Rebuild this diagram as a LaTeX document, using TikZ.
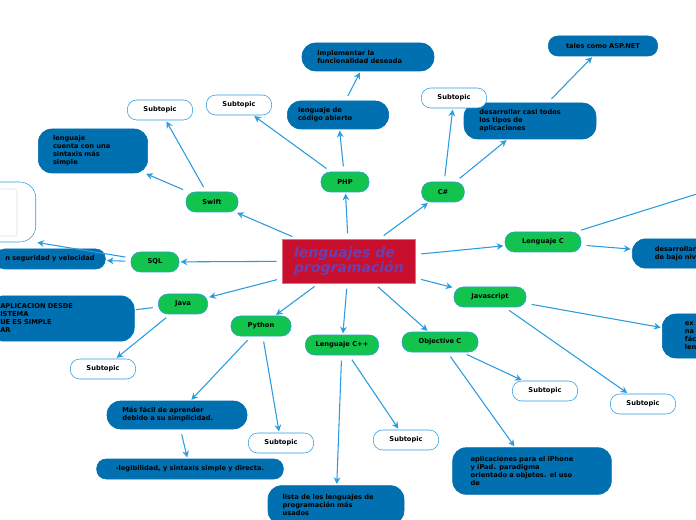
\documentclass[tikz,border=0pt]{standalone}
\usepackage{fontspec}
\setmainfont{DejaVu Sans}
\usetikzlibrary{arrows.meta}
\definecolor{edge}{HTML}{2B9BE0}
\definecolor{dblue}{HTML}{0070B0}
\definecolor{grn}{HTML}{12C44E}
\definecolor{crim}{HTML}{C8102E}
\definecolor{purp}{HTML}{6A3FB0}
\begin{document}
\begin{tikzpicture}[x=0.75pt,y=-0.75pt,
  font=\bfseries\fontsize{5}{6}\selectfont,
  topic/.style={draw=edge,fill=grn,rounded corners=7pt,minimum height=15pt,inner sep=1pt},
  info/.style={draw=dblue,fill=dblue,rounded corners=10pt,align=left,inner sep=2pt},
  sub/.style={draw=edge,fill=white,rounded corners=7pt,minimum width=49pt,minimum height=15pt},
  con/.style={draw=edge,line width=0.8pt,-{Stealth[length=5pt,width=5pt]},shorten <=4pt,shorten >=1pt}]
\useasboundingbox (0,0) rectangle (696,520);
\clip (0,0) rectangle (696,520);
\node[fill=crim,draw=crim!60,minimum width=100pt,minimum height=33pt,text=purp,align=left,font=\bfseries\itshape\fontsize{10.5}{11.5}\selectfont] (m) at (349,261) {lenguajes de\\programación};
% topics
\node[topic,minimum width=36pt] (php) at (345,182) {PHP};
\node[topic,minimum width=32pt] (cs) at (443,192) {C\#};
\node[topic,minimum width=39pt] (sw) at (212,202) {Swift};
\node[topic,minimum width=36pt] (sql) at (155,262) {SQL};
\node[topic,minimum width=37pt] (java) at (183,304) {Java};
\node[topic,minimum width=45pt] (py) at (261,326) {Python};
\node[topic,minimum width=55pt] (cpp) at (342,345) {Lenguaje C++};
\node[topic,minimum width=57pt] (objc) at (440,342) {Objective C};
\node[topic,minimum width=54pt] (js) at (490,297) {Javascript};
\node[topic,minimum width=57pt] (lc) at (543,242) {Lenguaje C};
% info
\node[info,minimum width=99pt,minimum height=21pt,text width=76pt] (impl) at (368,57) {implementar la\\funcionalidad deseada};
\node[info,minimum width=76pt,minimum height=21pt,text width=60pt] (abi) at (338,115) {lenguaje de\\código abierto};
\node[info,minimum width=99pt,minimum height=27pt,text width=76pt] (desc) at (530,121) {desarrollar casi todos\\los tipos de\\aplicaciones};
\node[info,minimum width=82pt,minimum height=15pt,rounded corners=7pt] (asp) at (603,46) {tales como ASP.NET};
\node[info,minimum width=82pt,minimum height=33pt,text width=60pt] (sint) at (93,151) {lenguaje\\cuenta con una\\sintaxis más\\simple};
\node[info,minimum height=15pt,rounded corners=7pt,anchor=west,align=left,inner xsep=7.5pt,text width=67.5pt] (seg) at (-5,259) {n seguridad y velocidad};
\node[info,minimum height=34pt,anchor=west,inner xsep=7.5pt,text width=93pt] (jbox) at (-10,318.5) {APLICACION DESDE\\ISTEMA\\UE ES SIMPLE\\AR};
\node[info,minimum width=80pt,minimum height=22pt,anchor=west,text width=70pt] (baj) at (632,253.5) {\hspace*{12pt}desarrollar\\\hspace*{12pt}de bajo nivel};
\node[info,minimum width=70pt,minimum height=33pt,anchor=west,text width=60pt] (ex) at (662,336) {\hspace*{12pt}ex\\\hspace*{12pt}na\\\hspace*{12pt}fác\\\hspace*{12pt}len};
\node[info,minimum width=105pt,minimum height=21pt,text width=82pt] (fac) at (177,415) {Más fácil de aprender\\debido a su simplicidad.};
\node[info,minimum width=140pt,minimum height=15pt,rounded corners=7pt] (leg) at (190,469) {-legibilidad, y sintaxis simple y directa.};
\node[info,minimum width=102pt,minimum height=29pt,text width=80pt] (lista) at (336,505) {lista de los lenguajes de\\programación más\\usados};
\node[info,minimum width=119pt,minimum height=35pt,text width=92pt] (ipho) at (532,471) {aplicaciones para el iPhone\\y iPad. paradigma\\orientado a objetos. el uso\\de};
\node[draw=edge,fill=white,rounded corners=12pt,minimum width=60pt,minimum height=45pt,anchor=east] (wb) at (36,212) {};
\draw[black!12,rounded corners=2pt] (-20,189) rectangle (17,236);
% subtopics
\node[sub] (s1) at (160,110) {Subtopic};
\node[sub] (s2) at (239,105) {Subtopic};
\node[sub] (s3) at (454,98) {Subtopic};
\node[sub] (s4) at (103,369) {Subtopic};
\node[sub] (s5) at (281,443) {Subtopic};
\node[sub] (s6) at (406,440) {Subtopic};
\node[sub] (s7) at (545,391) {Subtopic};
\node[sub] (s8) at (643,404) {Subtopic};
\coordinate (off) at (700,193);
% connectors
\foreach \t in {php,cs,sw,sql,java,py,cpp,objc,js,lc} \draw[con] (m) -- (\t);
\draw[con] (php) -- (abi); \draw[con] (abi) -- (impl); \draw[con] (php) -- (s2);
\draw[con] (cs) -- (desc); \draw[con] (cs) -- (s3); \draw[con] (desc) -- (asp);
\draw[con] (sw) -- (s1); \draw[con] (sw) -- (sint);
\draw[con] (sql) -- (seg); \draw[con] (sql) -- (wb.south east);
\draw[con,-] (java) -- (jbox); \draw[con] (java) -- (s4);
\draw[con] (py) -- (fac); \draw[con] (py) -- (s5); \draw[con] (fac) -- (leg);
\draw[con] (cpp) -- (lista); \draw[con] (cpp) -- (s6);
\draw[con] (objc) -- (s7); \draw[con] (objc) -- (ipho);
\draw[con] (js) -- (ex); \draw[con] (js) -- (s8);
\draw[con] (lc) -- (baj); \draw[con,-] (lc) -- (off);
\end{tikzpicture}
\end{document}
